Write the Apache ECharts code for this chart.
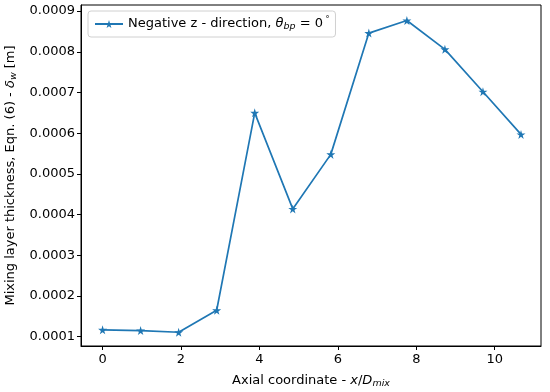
<!DOCTYPE html>
<html>
<head>
<meta charset="utf-8">
<script src="https://cdn.jsdelivr.net/npm/echarts@6/dist/echarts.min.js"></script>
<style>html,body{margin:0;padding:0;background:#fff;}#c{width:550px;height:392px;}</style>
</head>
<body>
<div id="c"></div>
<script>
var xValues = [0, 0.97, 1.94, 2.91, 3.88, 4.85, 5.82, 6.79, 7.76, 8.73, 9.70, 10.67];
var yValues = [0.000117, 0.000115, 0.000111, 0.000165, 0.00065, 0.000414, 0.000548, 0.000846, 0.000877, 0.000806, 0.000702, 0.000597];
var xTicks = [0, 2, 4, 6, 8, 10];
var yTicks = [0.0001, 0.0002, 0.0003, 0.0004, 0.0005, 0.0006, 0.0007, 0.0008, 0.0009];

var FONT = 'DejaVu Sans';
var FS = 13;
var star = 'path://M50,0 L61,35 L98,35 L68,57 L79,91 L50,70 L21,91 L32,57 L2,35 L39,35 Z';
var chart = echarts.init(document.getElementById('c'), null, {renderer: 'canvas'});
var pts = xValues.map(function (x, i) { return [x, yValues[i]]; });
chart.setOption({
  animation: false,
  backgroundColor: '#fff',
  textStyle: {fontFamily: FONT},
  grid: {left: 81, right: 9, top: 5, bottom: 46, outerBoundsMode: 'none', containLabel: false, show: true, borderColor: '#000', borderWidth: 1, backgroundColor: 'transparent'},
  legend: {
    left: 88, top: 11,
    orient: 'horizontal',
    backgroundColor: '#fff',
    borderColor: '#d0d0d0', borderWidth: 1, borderRadius: 3,
    padding: [5, 6, 5, 6],
    itemWidth: 28, itemHeight: 10, itemGap: 8,
    textStyle: {
      fontFamily: FONT, fontSize: FS, color: '#000',
      rich: {
        t: {fontFamily: FONT, fontSize: FS, fontStyle: 'italic', color: '#000'},
        s: {fontFamily: FONT, fontSize: 9.5, fontStyle: 'italic', color: '#000', verticalAlign: 'bottom', padding: [6, 0, 0, 0]},
        n: {fontFamily: FONT, fontSize: FS, color: '#000'},
        u: {fontFamily: FONT, fontSize: 8, color: '#000', verticalAlign: 'top', padding: [0, 0, 6, 0]}
      }
    },
    formatter: function () { return 'Negative z - direction, {t|θ}{s|bp}{n| = 0}{u| °}'; },
    data: ['s1']
  },
  xAxis: {
    type: 'value', min: -0.55, max: 11.18,
    name: 'Axial coordinate - {i|x}/{i|D}{s|mix}',
    nameLocation: 'middle', nameGap: 27,
    nameTextStyle: {
      fontFamily: FONT, fontSize: FS, color: '#000',
      rich: {
        i: {fontFamily: FONT, fontSize: FS, fontStyle: 'italic', color: '#000'},
        s: {fontFamily: FONT, fontSize: 9.5, fontStyle: 'italic', color: '#000', verticalAlign: 'bottom', padding: [6, 0, 0, 0]}
      }
    },
    splitLine: {show: false},
    axisLine: {show: true, onZero: false, lineStyle: {color: '#000', width: 1}},
    axisTick: {show: true, length: 4, lineStyle: {color: '#000'}, customValues: xTicks},
    axisLabel: {fontFamily: FONT, fontSize: FS, color: '#000', margin: 7, customValues: xTicks, formatter: function (v) { return String(v); }}
  },
  yAxis: {
    type: 'value', min: 0.0000772, max: 0.000915,
    name: 'Mixing layer thickness, Eqn. (6) - {i|δ}{s|w} [m]',
    nameLocation: 'middle', nameGap: 61, nameRotate: 90,
    nameTextStyle: {
      fontFamily: FONT, fontSize: FS, color: '#000',
      rich: {
        i: {fontFamily: FONT, fontSize: FS, fontStyle: 'italic', color: '#000'},
        s: {fontFamily: FONT, fontSize: 9.5, fontStyle: 'italic', color: '#000', verticalAlign: 'bottom', padding: [6, 0, 0, 0]}
      }
    },
    splitLine: {show: false},
    axisLine: {show: true, onZero: false, lineStyle: {color: '#000', width: 1}},
    axisTick: {show: true, length: 4, lineStyle: {color: '#000'}, customValues: yTicks},
    axisLabel: {fontFamily: FONT, fontSize: FS, color: '#000', margin: 6, customValues: yTicks, formatter: function (v) { return v.toFixed(4); }}
  },
  series: [{
    name: 's1', type: 'line', data: pts,
    symbol: star, symbolSize: 9,
    lineStyle: {color: '#1f77b4', width: 1.7},
    itemStyle: {color: '#1f77b4'},
    showAllSymbol: true
  }]
});
</script>
</body>
</html>
